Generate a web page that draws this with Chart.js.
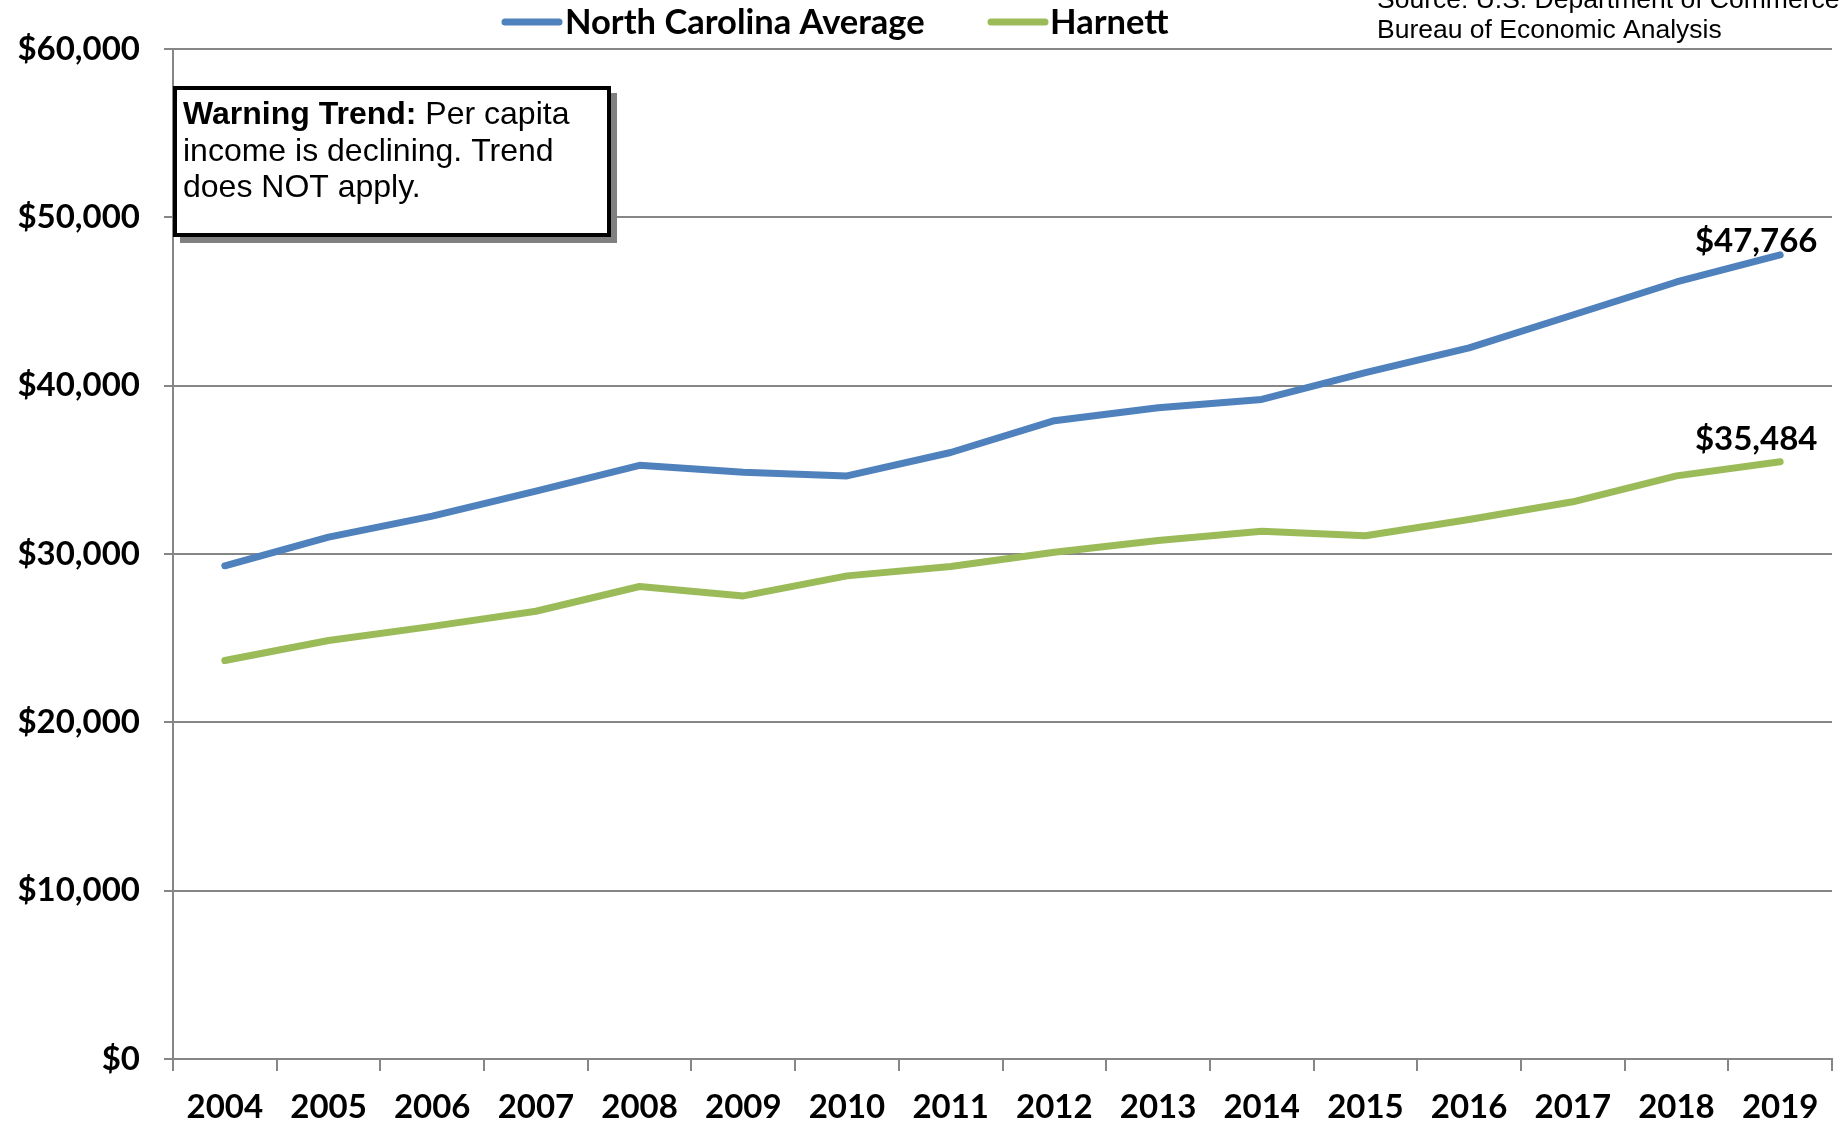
<!DOCTYPE html>
<html>
<head>
<meta charset="utf-8">
<script src="https://cdn.jsdelivr.net/npm/chart.js@4/dist/chart.umd.min.js"></script>
<style>
  html, body { margin:0; padding:0; background:#fff; }
  #wrap { width:1843px; height:1125px; position:relative; }
</style>
</head>
<body>
<div id="wrap"><canvas id="incomeChart"></canvas></div>
<script>
/* Per capita income, NC average vs Harnett */
const years = ['2004','2005','2006','2007','2008','2009','2010','2011','2012','2013','2014','2015','2016','2017','2018','2019'];
const ncAverage = [29300,31000,32250,33730,35270,34850,34640,36030,37920,38690,39180,40780,42250,44200,46160,47766];
const harnett   = [23670,24860,25700,26600,28070,27510,28700,29260,30100,30800,31350,31080,32050,33100,34640,35484];
const yTicks = [0,10000,20000,30000,40000,50000,60000];
const seriesNames = ['North Carolina Average','Harnett'];
const seriesColors = ['#4F81BD','#9BBB59'];
const sourceLines = ['Source: U.S. Department of Commerce','Bureau of Economic Analysis'];
const noteBold = 'Warning Trend:';
const noteLines = [' Per capita','income is declining. Trend','does NOT apply.'];

const TICK_FONT = {family:'Lato', weight:'bold', size:33};
const BOLD = 'bold 33px Lato, "Open Sans", sans-serif';
const ARIAL = '"Liberation Sans", Arial, sans-serif';
const fmt = v => '$' + Number(v).toLocaleString('en-US');

const extras = {
  id:'extras',
  afterDraw(chart) {
    const ctx = chart.ctx;
    const xs = chart.scales.x, ys = chart.scales.y;
    ctx.save();

    // legend
    const legendPos = [[505,565],[991,1050]];
    ctx.font = 'bold 34.5px Lato, "Open Sans", sans-serif';
    ctx.textBaseline = 'middle';
    ctx.textAlign = 'left';
    seriesNames.forEach((n,i)=>{
      const [lx,tx] = legendPos[i];
      ctx.strokeStyle = seriesColors[i];
      ctx.lineWidth = 7;
      ctx.lineCap = 'round';
      ctx.beginPath(); ctx.moveTo(lx,22); ctx.lineTo(lx+54,22); ctx.stroke();
      ctx.fillStyle = '#000';
      ctx.fillText(n, tx, 23);
    });

    // source
    ctx.font = '26.5px ' + ARIAL;
    ctx.textBaseline = 'alphabetic';
    ctx.fillText(sourceLines[0], 1377, 8);
    ctx.fillText(sourceLines[1], 1377, 38);

    // warning box
    ctx.fillStyle = '#808080';
    ctx.fillRect(180, 93, 437, 150);
    ctx.fillStyle = '#fff';
    ctx.fillRect(175, 88, 434, 147);
    ctx.strokeStyle = '#000';
    ctx.lineWidth = 4;
    ctx.strokeRect(175, 88, 434, 147);
    ctx.fillStyle = '#000';
    ctx.font = 'bold 32px ' + ARIAL;
    ctx.fillText(noteBold, 183, 124);
    const bw = ctx.measureText(noteBold).width;
    ctx.font = '32px ' + ARIAL;
    ctx.fillText(noteLines[0], 183 + bw, 124);
    ctx.fillText(noteLines[1], 183, 161);
    ctx.fillText(noteLines[2], 183, 197);

    // end value labels
    ctx.font = BOLD;
    ctx.textAlign = 'center';
    [ncAverage, harnett].forEach((arr,i)=>{
      const last = arr.length - 1;
      const px = xs.getPixelForValue(last);
      const py = ys.getPixelForValue(arr[last]);
      ctx.fillText(fmt(arr[last]), px - 24, py - (i===0 ? 3 : 12));
    });
    ctx.restore();
  }
};

new Chart(document.getElementById('incomeChart'), {
  type:'line',
  data:{
    labels:years,
    datasets:[
      {label:seriesNames[0], data:ncAverage, borderColor:seriesColors[0], backgroundColor:seriesColors[0], borderWidth:7, pointRadius:0, tension:0, borderCapStyle:'round', borderJoinStyle:'round'},
      {label:seriesNames[1], data:harnett, borderColor:seriesColors[1], backgroundColor:seriesColors[1], borderWidth:7, pointRadius:0, tension:0, borderCapStyle:'round', borderJoinStyle:'round'}
    ]
  },
  options:{
    responsive:true, maintainAspectRatio:false, animation:false,
    layout:{padding:{top:49, right:11, left:0, bottom:0}},
    plugins:{legend:{display:false}, tooltip:{enabled:false}},
    scales:{
      x:{
        offset:true,
        grid:{drawOnChartArea:false, drawTicks:true, tickLength:12, color:'#868686', lineWidth:2, offset:true},
        border:{color:'#868686', width:2},
        ticks:{color:'#000', font:TICK_FONT, padding:17, maxRotation:0, autoSkip:false},
        afterFit(s){ s.height = 66; }
      },
      y:{
        min:0, max:60000,
        afterBuildTicks(s){ s.ticks = yTicks.map(v=>({value:v})); },
        grid:{color:'#868686', lineWidth:2, tickLength:9},
        border:{color:'#868686', width:2},
        ticks:{color:'#000', font:TICK_FONT, padding:24, callback:v=>fmt(v)},
        afterFit(s){ s.width = 173; }
      }
    }
  },
  plugins:[extras]
});
</script>
</body>
</html>
